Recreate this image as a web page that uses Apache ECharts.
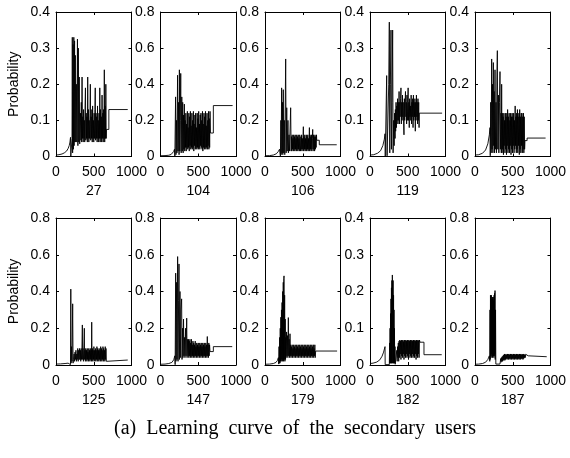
<!DOCTYPE html>
<html>
<head>
<meta charset="utf-8">
<script src="https://cdn.jsdelivr.net/npm/echarts@6/dist/echarts.min.js"></script>
<style>
  html, body { margin: 0; padding: 0; background: #ffffff; }
  #chart { width: 570px; height: 458px; }
</style>
</head>
<body>
<div id="chart"></div>
<script>
// Secondary users shown in the 2 x 5 grid, with each panel's y range.
const users = ['27', '104', '106', '119', '123', '125', '147', '179', '182', '187'];
const yMax = [0.4, 0.8, 0.8, 0.4, 0.4, 0.8, 0.8, 0.8, 0.4, 0.8];
const yStep = [0.1, 0.2, 0.2, 0.1, 0.1, 0.2, 0.2, 0.2, 0.1, 0.2];
const xTicks = [0, 500, 1000];

// Learning curves: [iteration, probability]
const curve27 = [[0,0.004],[40,0.005],[80,0.007],[110,0.01],[140,0.015],[160,0.022],[175,0.03],[185,0.04],[192,0.053],[196,0.001],[208,0.001],
  [212,0.05],[216,0.33],[220,0.01],[226,0.31],[230,0.02],[236,0.33],[240,0.03],[246,0.32],[250,0.04],[256,0.28],[262,0.04],[270,0.2],[276,0.04],[284,0.325],[290,0.03],[296,0.3],[302,0.04],[308,0.22],[314,0.035],
  [320,0.04],[325,0.12],[330,0.045],[335,0.15],[340,0.04],[345,0.22],[350,0.05],[355,0.11],[360,0.04],[365,0.13],[370,0.05],[375,0.1],[380,0.04],[385,0.14],[390,0.19],[395,0.045],[400,0.12],[405,0.05],[410,0.11],[415,0.04],[420,0.22],[425,0.05],[430,0.13],[435,0.04],[440,0.1],[445,0.05],[450,0.12],[455,0.2],[460,0.045],[465,0.11],[470,0.05],[475,0.13],[480,0.04],[485,0.14],[490,0.05],[495,0.1],[500,0.04],[505,0.12],[510,0.05],[515,0.13],[520,0.19],[525,0.045],[530,0.12],[535,0.05],[540,0.11],[545,0.04],[550,0.14],[555,0.05],[560,0.1],[565,0.04],[570,0.12],[575,0.05],[580,0.19],[585,0.04],[590,0.13],[595,0.05],[600,0.11],[605,0.04],[610,0.17],[615,0.05],[620,0.12],[625,0.04],[630,0.13],[635,0.05],[640,0.24],[645,0.04],[650,0.14],[655,0.05],[660,0.2],[665,0.05],[668,0.075],
  [700,0.075],[700,0.13],[950,0.13]];

const curve104 = [[0,0.004],[60,0.005],[110,0.007],[140,0.011],[160,0.017],[175,0.028],[185,0.04],[190,0.002],[196,0.002],[200,0.33],[205,0.01],[212,0.2],[218,0.02],[226,0.45],[232,0.03],[240,0.3],[246,0.01],[250,0.48],[256,0.03],[262,0.2],[268,0.46],[274,0.02],[282,0.33],[288,0.03],[294,0.3],[300,0.02],
  [306,0.23],[311,0.04],[316,0.29],[321,0.03],[326,0.2],[331,0.05],[336,0.24],[341,0.03],[346,0.18],[351,0.05],[356,0.25],[361,0.04],[366,0.16],[371,0.05],[376,0.24],[381,0.03],[386,0.22],[391,0.06],[396,0.25],[401,0.04],[406,0.17],[411,0.05],[416,0.24],[421,0.04],[426,0.2],[431,0.05],[436,0.25],[441,0.03],[446,0.18],[451,0.06],[456,0.23],[461,0.04],[466,0.24],[471,0.05],[476,0.16],[481,0.04],[486,0.24],[491,0.05],[496,0.21],[501,0.04],[506,0.25],[511,0.05],[516,0.18],[521,0.04],[526,0.23],[531,0.06],[536,0.24],[541,0.05],[546,0.2],[551,0.04],[556,0.25],[561,0.03],[566,0.18],[571,0.05],[576,0.24],[581,0.04],[586,0.22],[591,0.05],[596,0.25],[601,0.04],[606,0.17],[611,0.05],[616,0.24],[621,0.04],[626,0.2],[631,0.06],[636,0.25],[641,0.04],[646,0.21],[651,0.05],[656,0.25],[662,0.13],
  [700,0.13],[700,0.282],[955,0.282]];

const curve106 = [[0,0.004],[60,0.005],[110,0.008],[150,0.015],[175,0.027],[192,0.04],[200,0.05],[204,0.002],[210,0.2],[214,0.01],[220,0.38],[226,0.02],[232,0.3],[236,0.01],[242,0.37],[248,0.02],[256,0.2],[262,0.01],[274,0.54],[280,0.02],[288,0.27],[294,0.03],[304,0.2],[310,0.02],[318,0.12],[324,0.03],[340,0.27],[346,0.03],
  [350,0.11],[355,0.03],[360,0.12],[365,0.04],[370,0.1],[375,0.03],[380,0.12],[385,0.04],[390,0.11],[395,0.03],[400,0.12],[405,0.04],[410,0.1],[415,0.03],[420,0.12],[425,0.04],[430,0.11],[435,0.03],[440,0.12],[445,0.04],[450,0.1],[455,0.03],[460,0.12],[465,0.13],[470,0.03],[475,0.11],[480,0.04],[485,0.12],[490,0.03],[495,0.1],[500,0.04],[505,0.12],[508,0.165],[512,0.03],[517,0.11],[522,0.04],[527,0.12],[532,0.03],[537,0.1],[542,0.04],[547,0.12],[552,0.03],[557,0.11],[562,0.04],[567,0.12],[572,0.03],[577,0.1],[582,0.04],[588,0.16],[592,0.03],[597,0.12],[602,0.04],[607,0.11],[612,0.03],[617,0.12],[622,0.04],[627,0.1],[632,0.15],[637,0.03],[642,0.12],[647,0.04],[652,0.11],[657,0.03],[662,0.12],[667,0.04],[672,0.11],[677,0.05],[682,0.12],[685,0.09],
  [719,0.09],[719,0.065],[950,0.065]];

const curve119 = [[0,0.004],[50,0.005],[100,0.009],[140,0.016],[170,0.03],[190,0.048],[199,0.063],[202,0.001],[216,0.001],[221,0.224],[226,0.002],[240,0.005],[248,0.2],[256,0.372],[262,0.01],[270,0.2],[278,0.35],[284,0.02],[292,0.15],[300,0.35],[306,0.01],[314,0.1],[320,0.03],[326,0.12],
  [332,0.05],[336,0.13],[340,0.07],[345,0.15],[350,0.08],[355,0.14],[360,0.1],[365,0.16],[370,0.09],[375,0.15],[380,0.1],[385,0.18],[390,0.09],[395,0.15],[400,0.11],[405,0.16],[410,0.19],[415,0.09],[420,0.15],[425,0.1],[430,0.17],[435,0.11],[440,0.15],[445,0.09],[450,0.06],[455,0.16],[460,0.1],[465,0.15],[470,0.18],[475,0.11],[480,0.15],[485,0.09],[490,0.17],[495,0.1],[500,0.15],[505,0.19],[510,0.1],[515,0.15],[520,0.08],[525,0.16],[530,0.11],[535,0.14],[540,0.1],[545,0.17],[550,0.09],[555,0.15],[560,0.11],[565,0.16],[570,0.08],[575,0.17],[580,0.1],[585,0.15],[590,0.11],[595,0.16],[600,0.07],[605,0.15],[610,0.1],[615,0.17],[620,0.11],[625,0.15],[630,0.09],[635,0.16],[640,0.1],[645,0.15],[650,0.08],[653,0.12],
  [955,0.12]];

const curve123 = [[0,0.004],[50,0.005],[100,0.009],[140,0.018],[170,0.035],[190,0.06],[199,0.08],[202,0.002],[208,0.15],[214,0.01],[221,0.27],[226,0.02],[232,0.2],[237,0.01],[243,0.26],[248,0.03],[254,0.18],[259,0.01],[265,0.24],[270,0.02],[278,0.15],[284,0.01],[290,0.22],[296,0.293],[302,0.02],[310,0.17],[316,0.01],[324,0.15],[331,0.235],[336,0.02],[344,0.12],[348,0.01],[353,0.2],[358,0.01],
  [362,0.12],[367,0.02],[372,0.11],[377,0.005],[382,0.12],[387,0.03],[392,0.1],[397,0.01],[402,0.12],[407,0.02],[412,0.11],[417,0.005],[422,0.12],[427,0.03],[432,0.13],[437,0.01],[442,0.11],[447,0.02],[452,0.12],[457,0.01],[462,0.1],[467,0.03],[472,0.12],[477,0.005],[482,0.11],[487,0.02],[492,0.12],[497,0.01],[502,0.11],[507,0.03],[512,0.12],[517,0.01],[522,0.1],[527,0.02],[532,0.14],[537,0.03],[542,0.11],[547,0.01],[552,0.12],[557,0.02],[562,0.13],[567,0.01],[572,0.11],[577,0.03],[582,0.12],[587,0.005],[592,0.13],[597,0.02],[602,0.11],[607,0.01],[612,0.12],[617,0.03],[622,0.12],[627,0.01],[632,0.11],[637,0.02],[642,0.12],[647,0.01],[652,0.11],[657,0.02],[662,0.044],
  [690,0.044],[690,0.051],[935,0.051]];

const curve125 = [[0,0.005],[60,0.006],[120,0.008],[160,0.01],[185,0.015],[192,0.002],[196,0.413],[200,0.01],[206,0.1],[212,0.02],[221,0.333],[226,0.01],[232,0.03],[240,0.06],[246,0.02],[252,0.07],[258,0.03],[264,0.08],[270,0.02],[276,0.06],[282,0.03],[288,0.09],[294,0.02],[300,0.08],[306,0.03],[312,0.09],
  [318,0.03],[323,0.08],[328,0.02],[333,0.09],[338,0.03],[343,0.08],[349,0.218],[353,0.03],[358,0.09],[363,0.02],[368,0.08],[375,0.2],[379,0.03],[384,0.08],[389,0.02],[394,0.09],[399,0.03],[404,0.08],[409,0.02],[414,0.09],[419,0.03],[424,0.07],[429,0.02],[434,0.09],[439,0.03],[444,0.08],[449,0.02],[454,0.09],[459,0.03],[464,0.08],[469,0.02],[473,0.233],[477,0.03],[482,0.09],[487,0.02],[492,0.08],[497,0.03],[502,0.1],[507,0.02],[512,0.08],[517,0.03],[522,0.09],[527,0.02],[532,0.08],[537,0.03],[542,0.1],[547,0.02],[552,0.09],[557,0.03],[562,0.08],[567,0.02],[572,0.09],[577,0.03],[582,0.08],[587,0.02],[592,0.1],[597,0.03],[602,0.09],[607,0.02],[612,0.08],[617,0.03],[622,0.1],[627,0.02],[632,0.09],[637,0.03],[642,0.08],[647,0.02],[652,0.1],[657,0.03],[662,0.09],[667,0.02],[671,0.027],
  [950,0.027]];

const curve147 = [[0,0.004],[60,0.005],[110,0.008],[150,0.014],[175,0.028],[190,0.05],[194,0.002],[201,0.5],[205,0.02],[210,0.3],[214,0.45],[218,0.03],[227,0.59],[232,0.02],[240,0.35],[245,0.55],[250,0.03],[258,0.4],[263,0.04],[270,0.3],[280,0.36],[285,0.03],[292,0.2],[298,0.04],[305,0.25],[311,0.05],[318,0.15],[324,0.04],[332,0.2],[338,0.05],[347,0.255],[352,0.04],[360,0.14],[366,0.05],
  [370,0.14],[375,0.04],[380,0.13],[385,0.05],[390,0.14],[395,0.04],[400,0.12],[405,0.05],[410,0.14],[415,0.04],[420,0.11],[425,0.05],[430,0.13],[435,0.04],[440,0.12],[445,0.05],[450,0.11],[455,0.04],[460,0.13],[465,0.05],[470,0.1],[475,0.04],[480,0.12],[485,0.05],[490,0.11],[495,0.04],[500,0.12],[505,0.05],[510,0.1],[515,0.04],[520,0.12],[525,0.05],[530,0.11],[535,0.04],[540,0.12],[545,0.05],[550,0.1],[555,0.04],[560,0.12],[565,0.05],[570,0.11],[575,0.04],[580,0.12],[585,0.05],[590,0.1],[595,0.04],[600,0.12],[605,0.05],[610,0.11],[615,0.04],[620,0.155],[625,0.05],[630,0.11],[635,0.04],[640,0.12],[645,0.05],[650,0.11],[656,0.073],
  [700,0.073],[700,0.1],[950,0.1]];

const curve179 = [[0,0.004],[60,0.005],[110,0.008],[145,0.014],[165,0.025],[177,0.04],[182,0.005],[186,0.1],[190,0.01],[194,0.15],[198,0.01],[202,0.2],[206,0.02],[210,0.26],[214,0.02],[218,0.3],[222,0.03],[226,0.34],[230,0.02],[234,0.4],[238,0.03],[242,0.45],[246,0.02],[249,0.47],[252,0.485],[256,0.03],[260,0.38],[264,0.02],[268,0.25],[272,0.03],[276,0.15],[280,0.04],[286,0.18],[292,0.05],[298,0.16],[303,0.04],[309,0.258],[314,0.05],[320,0.14],[326,0.04],[331,0.17],[336,0.05],
  [340,0.11],[345,0.04],[350,0.1],[355,0.05],[360,0.11],[365,0.04],[370,0.09],[375,0.05],[380,0.11],[385,0.04],[390,0.1],[395,0.05],[400,0.11],[405,0.04],[410,0.09],[415,0.05],[420,0.11],[425,0.04],[430,0.1],[435,0.05],[440,0.11],[445,0.04],[450,0.09],[455,0.05],[460,0.11],[465,0.04],[470,0.1],[475,0.05],[480,0.11],[485,0.04],[490,0.09],[495,0.05],[500,0.11],[505,0.04],[510,0.1],[515,0.05],[520,0.11],[525,0.04],[530,0.09],[535,0.05],[540,0.11],[545,0.04],[550,0.1],[555,0.05],[560,0.11],[565,0.04],[570,0.09],[575,0.05],[580,0.11],[585,0.04],[590,0.1],[595,0.05],[600,0.11],[605,0.04],[610,0.09],[615,0.05],[620,0.11],[625,0.04],[630,0.1],[635,0.05],[640,0.11],[645,0.04],[650,0.09],[655,0.05],[660,0.11],[665,0.04],[671,0.076],
  [955,0.076]];

const curve182 = [[0,0.004],[40,0.005],[90,0.008],[130,0.014],[160,0.024],[180,0.035],[199,0.05],[201,0.001],[256,0.001],[260,0.06],[263,0.005],[266,0.1],[269,0.005],[272,0.14],[275,0.005],[278,0.18],[281,0.005],[284,0.21],[287,0.005],[290,0.23],[293,0.005],[296,0.245],[300,0.25],[303,0.005],[306,0.23],[309,0.005],[312,0.19],[315,0.005],[318,0.15],[321,0.005],[324,0.1],[327,0.005],[331,0.05],[334,0.002],[350,0.002],
  [355,0.04],[360,0.01],[365,0.05],[370,0.02],[375,0.06],[380,0.01],[385,0.065],[390,0.02],[395,0.068],[400,0.03],[405,0.065],[410,0.015],[415,0.068],[420,0.025],[425,0.066],[430,0.02],[435,0.068],[440,0.03],[445,0.064],[450,0.015],[455,0.068],[460,0.025],[465,0.066],[470,0.02],[475,0.068],[480,0.03],[485,0.065],[490,0.02],[495,0.068],[500,0.025],[505,0.066],[510,0.015],[515,0.068],[520,0.03],[525,0.065],[530,0.02],[535,0.068],[540,0.025],[545,0.066],[550,0.02],[555,0.068],[560,0.03],[565,0.065],[570,0.02],[575,0.068],[580,0.025],[585,0.066],[590,0.02],[595,0.068],[600,0.03],[605,0.065],[610,0.015],[615,0.068],[620,0.025],[625,0.066],[630,0.02],[635,0.068],[640,0.03],[645,0.066],[650,0.02],[655,0.068],[662,0.062],
  [715,0.062],[715,0.028],[950,0.028]];

const curve187 = [[0,0.004],[50,0.005],[100,0.008],[140,0.015],[170,0.03],[190,0.05],[196,0.02],[199,0.3],[202,0.03],[205,0.38],[208,0.05],[211,0.36],[214,0.04],[217,0.38],[220,0.06],[223,0.35],[226,0.05],[229,0.37],[232,0.04],[235,0.36],[238,0.06],[241,0.37],[244,0.05],[247,0.35],[250,0.04],[253,0.38],[256,0.05],[259,0.39],[262,0.06],[265,0.405],[268,0.03],[272,0.3],[276,0.005],[330,0.005],
  [336,0.02],[340,0.035],[345,0.015],[350,0.04],[355,0.02],[360,0.045],[365,0.02],[370,0.05],[375,0.025],[380,0.055],[385,0.03],[390,0.06],[395,0.025],[400,0.055],[405,0.03],[410,0.06],[415,0.035],[420,0.055],[425,0.03],[430,0.06],[435,0.035],[440,0.058],[445,0.03],[450,0.06],[455,0.035],[460,0.055],[465,0.03],[470,0.06],[475,0.035],[480,0.058],[485,0.03],[490,0.06],[495,0.035],[500,0.055],[505,0.03],[510,0.06],[515,0.035],[520,0.058],[525,0.03],[530,0.06],[535,0.035],[540,0.055],[545,0.03],[550,0.06],[555,0.035],[560,0.058],[565,0.03],[570,0.06],[575,0.035],[580,0.055],[585,0.03],[590,0.06],[595,0.035],[600,0.058],[605,0.03],[610,0.06],[615,0.035],[620,0.055],[625,0.035],[630,0.058],[635,0.03],[640,0.06],[645,0.035],[650,0.055],[655,0.04],[660,0.058],[665,0.04],[672,0.058],[680,0.055],
  [705,0.05],[720,0.045],[950,0.045]];

const curves = [curve27, curve104, curve106, curve119, curve123, curve125, curve147, curve179, curve182, curve187];

// Panel geometry (pixels)
const colLeft = [56, 160.5, 265, 370, 475];
const panelW = 75.5;
const rowTop = [12, 218];
const rowH = [144.5, 147];

const FONT = '"Liberation Sans", Arial, sans-serif';
const tickFont = { fontFamily: FONT, fontSize: 14, color: '#000' };

const grid = [], xAxis = [], yAxis = [], series = [];
users.forEach((u, i) => {
  const row = Math.floor(i / 5), col = i % 5;
  grid.push({ left: colLeft[col], top: rowTop[row], width: panelW, height: rowH[row], containLabel: false });
  const line = { show: true, onZero: false, lineStyle: { color: '#000', width: 1 } };
  const tick = { show: true, inside: true, length: 3, lineStyle: { color: '#000', width: 1 } };
  // bottom axis with tick labels and the user id underneath
  xAxis.push({
    type: 'value', gridIndex: i, position: 'bottom', min: xTicks[0], max: xTicks[xTicks.length - 1], interval: xTicks[1] - xTicks[0],
    axisLine: line, axisTick: tick, splitLine: { show: false },
    axisLabel: Object.assign({ margin: 9, showMinLabel: true, showMaxLabel: true, formatter: v => String(v) }, tickFont),
    name: u, nameLocation: 'middle', nameGap: 28, nameTextStyle: { fontFamily: FONT, fontSize: 14, color: '#000' }
  });
  // mirrored top edge of the box
  xAxis.push({
    type: 'value', gridIndex: i, position: 'top', min: xTicks[0], max: xTicks[xTicks.length - 1], interval: xTicks[1] - xTicks[0],
    axisLine: line, axisTick: tick, axisLabel: { show: false }, splitLine: { show: false }
  });
  yAxis.push({
    type: 'value', gridIndex: i, position: 'left', min: 0, max: yMax[i], interval: yStep[i],
    axisLine: line, axisTick: tick, splitLine: { show: false },
    axisLabel: Object.assign({ margin: 6, showMinLabel: true, showMaxLabel: true }, tickFont),
    name: col === 0 ? 'Probability' : '', nameLocation: 'middle', nameGap: 35, nameRotate: 90,
    nameTextStyle: { fontFamily: FONT, fontSize: 14, color: '#000' }
  });
  // mirrored right edge of the box
  yAxis.push({
    type: 'value', gridIndex: i, position: 'right', min: 0, max: yMax[i], interval: yStep[i],
    axisLine: line, axisTick: tick, axisLabel: { show: false }, splitLine: { show: false }
  });
  series.push({
    type: 'line', xAxisIndex: 2 * i, yAxisIndex: 2 * i, data: curves[i],
    showSymbol: false, symbol: 'none', clip: true, silent: true,
    lineStyle: { color: '#000', width: 0.9 }
  });
});

const chart = echarts.init(document.getElementById('chart'), null, { renderer: 'canvas' });
chart.setOption({
  animation: false,
  backgroundColor: '#ffffff',
  grid, xAxis, yAxis, series,
  graphic: [{
    type: 'text', left: 114, top: 419,
    style: { text: '(a)  Learning  curve  of  the  secondary  users', fontFamily: '"Liberation Serif", "Times New Roman", serif', fontSize: 20, fill: '#000' }
  }]
});
</script>
</body>
</html>
